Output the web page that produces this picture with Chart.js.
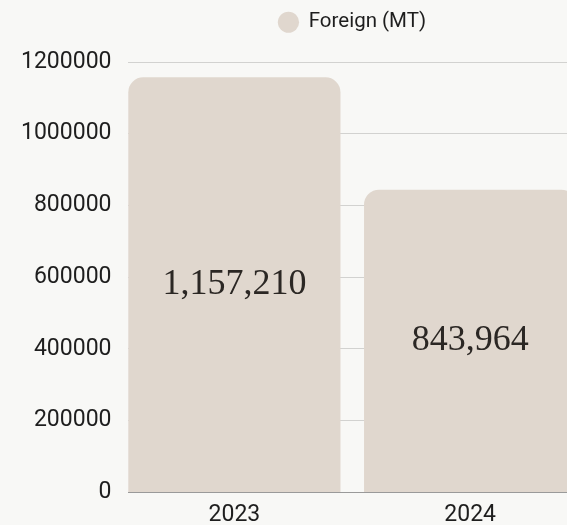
<!DOCTYPE html>
<html>
<head>
<meta charset="utf-8">
<script src="https://cdn.jsdelivr.net/npm/chart.js"></script>
<style>
  html, body { margin: 0; padding: 0; background: #f8f8f6; overflow: hidden; }
  #wrap { width: 588px; height: 530px; position: relative; }
</style>
</head>
<body>
<div id="wrap"><canvas id="foreignChart"></canvas></div>
<script>
const years = ['2023', '2024'];
const foreignMT = [1157210, 843964];
const seriesName = 'Foreign (MT)';
const yMin = 0, yMax = 1200000, yStep = 200000;

const barColor = '#e0d7ce';
const bgColor = '#f8f8f6';
const inkColor = '#1e1e1e';

// extra room under the legend
const legendSpace = {
    id: 'legendSpace',
    beforeInit(chart) {
        const fit = chart.legend.fit;
        chart.legend.fit = function () { fit.call(this); this.height += 19.5; };
    }
};

// grid lines start a little right of the y labels in the original
const gridInset = {
    id: 'gridInset',
    beforeDatasetsDraw(chart) {
        const { ctx, chartArea } = chart;
        ctx.save();
        ctx.fillStyle = bgColor;
        ctx.fillRect(chartArea.left - 1, chartArea.top - 2, 12.5, chartArea.bottom - chartArea.top + 4);
        ctx.restore();
    }
};

// big serif value in the middle of each bar
const barValueLabels = {
    id: 'barValueLabels',
    afterDatasetsDraw(chart) {
        const ctx = chart.ctx;
        const meta = chart.getDatasetMeta(0);
        ctx.save();
        ctx.font = '36px "Liberation Serif", serif';
        ctx.fillStyle = '#2b2724';
        ctx.textAlign = 'center';
        ctx.textBaseline = 'middle';
        meta.data.forEach((bar, i) => {
            const v = chart.data.datasets[0].data[i];
            ctx.fillText(v.toLocaleString('en-US'), bar.x, (bar.y + bar.base) / 2);
        });
        ctx.restore();
    }
};

new Chart(document.getElementById('foreignChart'), {
    type: 'bar',
    data: {
        labels: years,
        datasets: [{
            label: seriesName,
            data: foreignMT,
            backgroundColor: barColor,
            borderWidth: 0,
            borderRadius: 15,
            borderSkipped: 'start',
            barPercentage: 0.9,
            categoryPercentage: 1.0
        }]
    },
    options: {
        responsive: true,
        maintainAspectRatio: false,
        animation: false,
        layout: { padding: { top: 2 } },
        plugins: {
            legend: {
                position: 'top',
                fullSize: false,
                labels: {
                    usePointStyle: true,
                    pointStyle: 'circle',
                    boxWidth: 20,
                    boxHeight: 15,
                    color: inkColor,
                    font: { family: 'Roboto', size: 20.5 },
                    padding: 10
                }
            },
            tooltip: { enabled: false }
        },
        scales: {
            x: {
                grid: { display: false },
                border: { color: '#9a9a9a' },
                ticks: { color: inkColor, font: { family: 'Roboto', size: 23 }, padding: 1 }
            },
            y: {
                min: yMin,
                max: yMax,
                afterFit(s) { s.width = 116.5; },
                grid: { color: '#d2d2d0', drawTicks: false },
                border: { display: false },
                ticks: {
                    stepSize: yStep,
                    padding: 5,
                    color: inkColor,
                    font: { family: 'Roboto', size: 23 },
                    callback: v => String(v)
                }
            }
        }
    },
    plugins: [legendSpace, gridInset, barValueLabels]
});
</script>
</body>
</html>
